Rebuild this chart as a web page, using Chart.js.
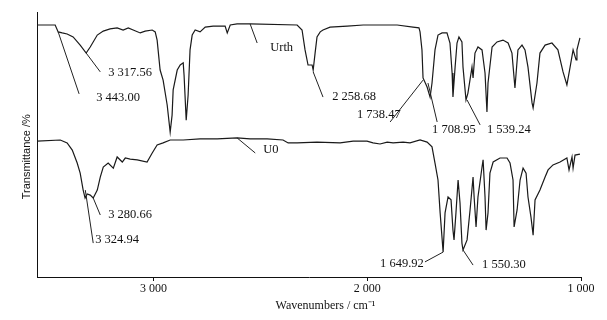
<!DOCTYPE html>
<html>
<head>
<meta charset="utf-8">
<script src="https://cdn.jsdelivr.net/npm/chart.js@4/dist/chart.umd.min.js"></script>
<style>
html,body{margin:0;padding:0;background:#fff;}
canvas{display:block;}
</style>
</head>
<body>
<canvas id="c" width="607" height="320"></canvas>
<script>
// Urth spectrum (wavenumber cm-1, transmittance a.u.)
const urthWn = [3544,3460,3446,3427,3404,3376,3343,3315,3296,3263,3235,3203,3170,3142,3118,3095,3062,3039,3006,2992,2983,2969,2955,2936,2922,2913,2908,2889,2875,2861,2857,2847,2838,2829,2819,2805,2782,2758,2721,2679,2665,2655,2641,2609,2548,2328,2305,2291,2277,2258,2253,2244,2235,2220,2207,2174,2094,2019,1940,1860,1786,1758,1753,1744,1739,1720,1706,1697,1683,1669,1650,1627,1613,1603,1599,1589,1580,1571,1557,1552,1538,1529,1510,1505,1496,1482,1463,1449,1440,1435,1416,1393,1365,1341,1323,1309,1295,1276,1262,1248,1229,1224,1206,1192,1168,1136,1108,1084,1066,1051,1037,1023,1019,1005];
const urthT  = [95.1,95.1,92.5,92.1,91.7,90.6,87.5,84.5,86.8,91.3,92.8,93.6,94.0,93.2,94.0,93.2,92.1,92.8,93.2,92.5,89.4,78.1,74.3,64.9,54.7,61.1,70.6,78.1,80.0,80.8,76.2,59.2,68.7,85.7,91.3,93.2,92.5,94.3,94.7,94.7,94.7,92.1,95.1,95.5,95.5,95.1,93.2,85.7,80.0,80.0,78.1,84.5,90.6,92.5,93.2,94.3,94.7,95.1,95.1,95.1,94.3,94.0,92.5,85.7,75.1,71.7,67.9,73.2,85.7,91.3,92.1,92.1,88.3,77.0,67.9,79.2,88.3,90.6,88.7,79.2,66.8,69.4,79.2,75.1,84.5,86.8,85.7,77.0,62.3,73.2,86.8,88.7,89.4,88.3,84.5,71.3,85.7,87.5,85.7,79.2,65.7,63.8,73.2,84.5,87.5,88.3,85.7,77.4,72.5,79.2,85.7,81.9,85.7,90.2];

// U0 spectrum
const u0Wn = [3544,3436,3404,3380,3357,3343,3329,3320,3310,3296,3282,3263,3249,3235,3212,3188,3170,3146,3132,3109,3076,3030,3006,2983,2955,2922,2861,2782,2702,2609,2548,2468,2394,2370,2328,2235,2127,2066,2001,1973,1940,1907,1879,1832,1800,1753,1720,1697,1683,1669,1659,1645,1636,1622,1608,1599,1594,1585,1575,1566,1557,1552,1533,1519,1505,1500,1491,1482,1463,1458,1449,1444,1435,1426,1411,1379,1346,1332,1318,1313,1299,1285,1271,1257,1248,1234,1224,1215,1192,1168,1154,1131,1098,1066,1056,1042,1037,1028,1005];
const u0T  = [51.3,51.7,50.6,47.9,43.0,39.2,32.8,29.8,31.3,30.9,29.8,32.8,37.7,41.5,43.0,41.1,45.3,43.4,44.9,44.5,44.2,43.4,46.8,49.8,50.6,51.7,51.7,52.1,52.1,52.5,52.1,52.1,51.7,50.6,50.6,50.9,50.6,51.3,51.3,50.6,50.2,50.9,50.6,50.9,50.6,51.7,50.9,49.1,43.0,36.6,24.2,9.4,24.2,30.2,29.1,17.7,14.0,24.2,36.6,27.9,12.8,10.2,14.0,25.3,37.7,30.2,18.9,30.2,41.5,44.2,30.2,17.7,24.2,39.2,43.4,44.9,44.9,43.0,36.6,18.9,25.3,36.6,41.1,39.2,30.2,22.6,15.8,29.1,32.8,37.7,40.4,42.3,43.4,44.9,40.4,45.3,41.1,46.0,46.4];

// x-axis tick values
const xTicks = [3000, 2000, 1000];

// peak annotations: text, text anchor (wn, T), leader line from (wn, T) to (wn, T)
const annText  = ["3 443.00","3 317.56","2 258.68","1 738.47","1 708.95","1 539.24","Urth","U0","3 280.66","3 324.94","1 649.92","1 550.30"];
const annTextWn = [3268,3212,2164,2048,1697,1440,2454,2487,3212,3273,1940,1463];
const annTextT  = [67.5,77.0,67.9,61.1,55.5,55.5,86.4,47.9,23.4,14.0,4.9,4.5];
const annLineWn1 = [3446,3315,2253,1739,1716,1533,2548,2609,3282,3319,1645,1552];
const annLineT1  = [92.5,84.5,77.4,74.3,73.2,66.8,95.5,52.5,29.8,32.8,9.4,10.2];
const annLineWn2 = [3348,3249,2207,1893,1673,1472,2515,2524,3249,3282,1730,1505];
const annLineT2  = [69.1,77.4,67.9,58.5,58.5,57.4,88.3,46.8,23.4,12.8,5.7,4.5];

const toXY = (wn, t) => wn.map((w, i) => ({x: w, y: t[i]}));

const annotPlugin = {
  id: 'peakLabels',
  afterDatasetsDraw(chart) {
    const {ctx, scales: {x, y}} = chart;
    ctx.save();
    ctx.strokeStyle = '#222';
    ctx.lineWidth = 1;
    for (let i = 0; i < annText.length; i++) {
      ctx.beginPath();
      ctx.moveTo(x.getPixelForValue(annLineWn1[i]), y.getPixelForValue(annLineT1[i]));
      ctx.lineTo(x.getPixelForValue(annLineWn2[i]), y.getPixelForValue(annLineT2[i]));
      ctx.stroke();
    }
    ctx.fillStyle = '#111';
    ctx.font = '12.5px "Liberation Serif", "Times New Roman", serif';
    ctx.textAlign = 'left';
    ctx.textBaseline = 'middle';
    for (let i = 0; i < annText.length; i++) {
      ctx.fillText(annText[i], x.getPixelForValue(annTextWn[i]), y.getPixelForValue(annTextT[i]));
    }
    ctx.restore();
  }
};

const lineStyle = {borderColor: '#1a1a1a', borderWidth: 1.2, pointRadius: 0, tension: 0, fill: false};

new Chart(document.getElementById('c'), {
  type: 'line',
  data: {
    datasets: [
      Object.assign({label: 'Urth', data: toXY(urthWn, urthT)}, lineStyle),
      Object.assign({label: 'U0', data: toXY(u0Wn, u0T)}, lineStyle)
    ]
  },
  options: {
    responsive: false,
    devicePixelRatio: 1,
    animation: false,
    layout: {padding: {top: 12, right: 26, left: 0, bottom: 0}},
    plugins: {legend: {display: false}, tooltip: {enabled: false}},
    scales: {
      x: {
        type: 'linear',
        reverse: true,
        min: 1000,
        max: 3545,
        afterBuildTicks: (s) => { s.ticks = xTicks.map(v => ({value: v})); },
        afterFit: (s) => { s.height = 43; s.paddingLeft = 0; s.paddingRight = 0; },
        grid: {display: true, drawOnChartArea: false, drawTicks: true, tickLength: 4, color: '#111', lineWidth: 1},
        border: {display: true, color: '#111', width: 1},
        ticks: {
          color: '#111',
          padding: 1,
          maxRotation: 0,
          autoSkip: false,
          font: {family: '"Liberation Serif", "Times New Roman", serif', size: 12},
          callback: (v) => String(v).replace(/\B(?=(\d{3})+(?!\d))/g, ' ')
        },
        title: {
          display: true,
          text: '           Wavenumbers / cm\u207B\u00B9',
          color: '#111',
          font: {family: '"Liberation Serif", "Times New Roman", serif', size: 12},
          padding: {top: 0, bottom: 7}
        }
      },
      y: {
        type: 'linear',
        min: 0,
        max: 100,
        afterFit: (s) => { s.width = 37; },
        grid: {display: false},
        border: {display: true, color: '#111', width: 1},
        ticks: {display: false},
        title: {
          display: true,
          text: 'Transmittance /%        ',
          color: '#111',
          font: {family: '"Liberation Sans", Arial, sans-serif', size: 11},
          padding: {top: 20, bottom: 0}
        }
      }
    }
  },
  plugins: [annotPlugin]
});
</script>
</body>
</html>
